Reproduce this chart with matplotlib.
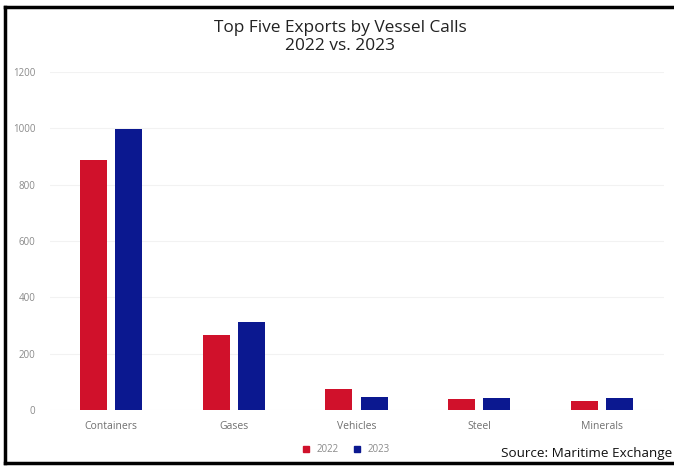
import matplotlib
matplotlib.use("Agg")
import matplotlib.pyplot as plt
import numpy as np
from matplotlib.lines import Line2D

categories = ["Containers", "Gases", "Vehicles", "Steel", "Minerals"]
values_2022 = [887, 266, 75, 40, 31]
values_2023 = [997, 312, 46, 41, 41]
series_labels = ["2022", "2023"]
yticks = [0, 200, 400, 600, 800, 1000, 1200]

red = "#d0112b"
blue = "#0b1890"

plt.rcParams['font.family'] = ['Open Sans', 'DejaVu Sans']

W, H = 674, 466
fig = plt.figure(figsize=(W/100, H/100), dpi=100)
ax = fig.add_axes([49.5/W, 1-410/H, (663.5-49.5)/W, (410-72)/H])

x = np.arange(len(categories))
bw = 0.22
off = 0.143
ax.bar(x - off, values_2022, bw, color=red, label=series_labels[0])
ax.bar(x + off, values_2023, bw, color=blue, label=series_labels[1])

ax.set_xlim(-0.5, len(categories) - 0.5)
ax.set_ylim(0, 1200)
ax.set_yticks(yticks)
ax.set_yticklabels([str(v) for v in yticks], fontsize=7, color="#8a8a8a")
ax.set_xticks(x)
ax.set_xticklabels(categories, fontsize=7.5, color="#707070")
ax.tick_params(length=0, pad=8)
ax.tick_params(axis='y', pad=10)
for s in ax.spines.values():
    s.set_visible(False)
ax.yaxis.grid(True, color="#f2f2f2", linewidth=0.8)
ax.set_axisbelow(True)

fig.text(340/W, 1-28/H, "Top Five Exports by Vessel Calls", ha="center", va="center",
         fontsize=12.4, color="#222222")
fig.text(340/W, 1-46.5/H, "2022 vs. 2023", ha="center", va="center",
         fontsize=12.4, color="#222222")

handles = [Line2D([], [], marker='s', linestyle='none', color=red, markersize=5),
           Line2D([], [], marker='s', linestyle='none', color=blue, markersize=5)]
fig.legend(handles, series_labels, loc="center", bbox_to_anchor=(343/W, 1-450/H),
           ncol=2, frameon=False, fontsize=7, handletextpad=0.1, columnspacing=0.8,
           labelcolor="#8a8a8a")

fig.text(672/W, 1-453/H, "Source: Maritime Exchange", ha="right", va="center",
         fontsize=9.7, color="#111111")

# border frame
fig.add_artist(Line2D([5/W, 5/W], [1-463/H, 1-7/H], transform=fig.transFigure, color="black", linewidth=2.5))
fig.add_artist(Line2D([5/W, 1], [1-7/H, 1-7/H], transform=fig.transFigure, color="black", linewidth=2.5))
fig.add_artist(Line2D([5/W, 1], [1-463/H, 1-463/H], transform=fig.transFigure, color="black", linewidth=2.5))

fig.savefig("out.png", dpi=100)
